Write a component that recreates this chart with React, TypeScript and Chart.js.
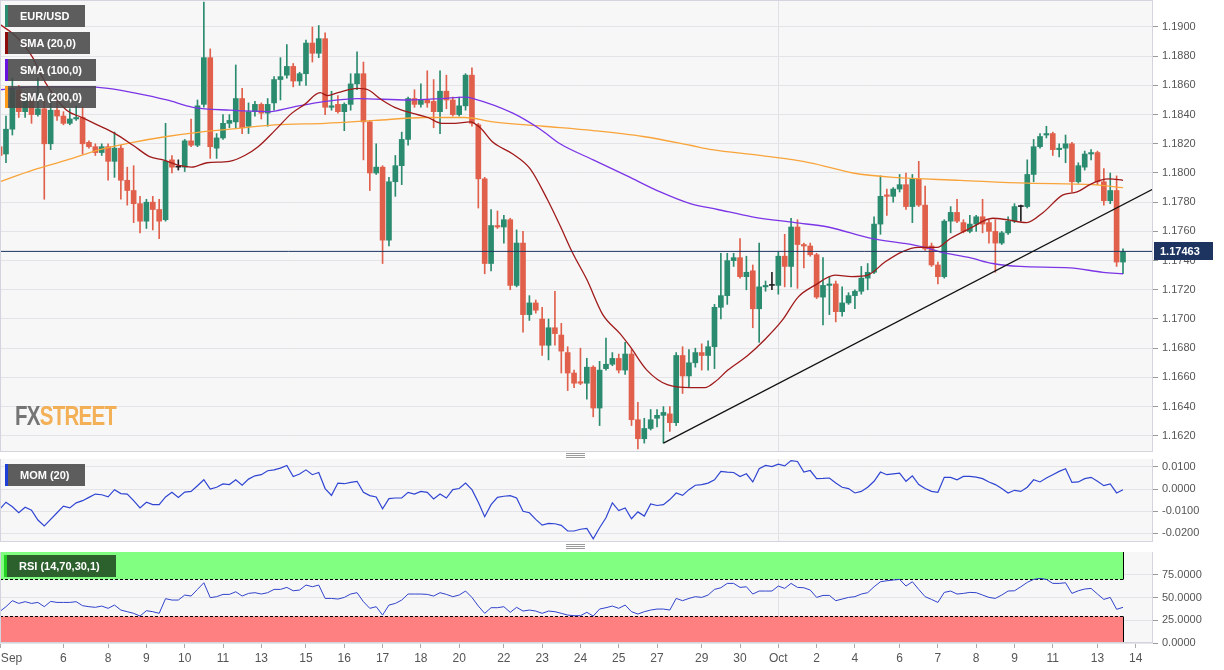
import React, { useEffect, useRef } from 'react';
import Chart from 'chart.js/auto';

Chart.defaults.font.family = "'Liberation Sans', Arial, Helvetica, sans-serif";

// EUR/USD 4h candles, Sep 3 -> Oct 13 (index 0..176)
const OPEN = [
  1.1818, 1.1813, 1.183, 1.1857, 1.1842, 1.185, 1.184, 1.1844, 1.182, 1.1843,
  1.1839, 1.1834, 1.1837, 1.1838, 1.1821, 1.1818, 1.1814, 1.1818, 1.1808, 1.1817,
  1.1795, 1.1788, 1.1779, 1.1767, 1.178, 1.1775, 1.1768, 1.1809, 1.1804, 1.1804,
  1.1822, 1.1819, 1.1847, 1.1879, 1.1817, 1.1824, 1.1834, 1.1835, 1.1851, 1.1832,
  1.1842, 1.1847, 1.1841, 1.1848, 1.1864, 1.1867, 1.1873, 1.1863, 1.1868, 1.1889,
  1.1882, 1.1892, 1.1845, 1.1847, 1.1842, 1.1847, 1.1861, 1.1868, 1.1835, 1.18,
  1.1804, 1.1754, 1.1794, 1.1805, 1.1823, 1.1851, 1.1847, 1.185, 1.1849, 1.1842,
  1.1856, 1.185, 1.184, 1.1846, 1.1867, 1.1833, 1.1796, 1.1738, 1.1764, 1.1763,
  1.1768, 1.1723, 1.1752, 1.1703, 1.1711, 1.17, 1.1682, 1.1694, 1.1689, 1.1677,
  1.1663, 1.1657, 1.1656, 1.1667, 1.1639, 1.1666, 1.1669, 1.1673, 1.1665, 1.1676,
  1.1631, 1.1618, 1.1625, 1.1632, 1.1634, 1.1635, 1.1629, 1.1675, 1.1661, 1.167,
  1.1677, 1.1675, 1.1681, 1.1708, 1.1716, 1.174, 1.1742, 1.1729, 1.1733, 1.1707,
  1.1722, 1.1723, 1.1723, 1.1743, 1.1736, 1.1763, 1.1751, 1.175, 1.1744, 1.1715,
  1.1723, 1.1724, 1.1705, 1.1711, 1.1716, 1.1719, 1.1728, 1.1732, 1.1765, 1.1785,
  1.1784, 1.1789, 1.1792, 1.1777, 1.1796, 1.1778, 1.175, 1.1737, 1.1729, 1.1767,
  1.1773, 1.1766, 1.176, 1.1765, 1.177, 1.1766, 1.176, 1.1752, 1.1759, 1.1767,
  1.1777, 1.1777, 1.1799, 1.1818, 1.1826, 1.1827, 1.1816, 1.1817, 1.182, 1.1794,
  1.1804, 1.1813, 1.1814, 1.1794, 1.1781, 1.1788, 1.1739,
];
const HIGH = [
  1.1822, 1.1839, 1.1865, 1.186, 1.1855, 1.1853, 1.1865, 1.185, 1.185, 1.185,
  1.1842, 1.1844, 1.1846, 1.1845, 1.1822, 1.182, 1.182, 1.182, 1.1828, 1.1819,
  1.1804, 1.1805, 1.1784, 1.1782, 1.1784, 1.1782, 1.1834, 1.1812, 1.1809, 1.1823,
  1.1837, 1.185, 1.1917, 1.1885, 1.1827, 1.184, 1.184, 1.1874, 1.1858, 1.1848,
  1.1849, 1.1848, 1.1851, 1.1866, 1.1879, 1.1888, 1.1875, 1.1869, 1.1891, 1.19,
  1.1901, 1.1896, 1.1856, 1.1853, 1.1848, 1.1868, 1.1883, 1.1876, 1.1836, 1.182,
  1.1805, 1.1797, 1.1812, 1.1828, 1.1852, 1.1857, 1.1861, 1.187, 1.1864, 1.187,
  1.1867, 1.1852, 1.1852, 1.1868, 1.1872, 1.1834, 1.1797, 1.1775, 1.1774, 1.1771,
  1.1769, 1.1761, 1.176, 1.1716, 1.1713, 1.1708, 1.17, 1.1719, 1.1697, 1.1681,
  1.1665, 1.168, 1.1673, 1.1668, 1.1671, 1.1687, 1.1677, 1.1676, 1.1684, 1.1679,
  1.1643, 1.1632, 1.1638, 1.1638, 1.164, 1.164, 1.1677, 1.1681, 1.1679, 1.168,
  1.1683, 1.1685, 1.171, 1.1745, 1.1745, 1.1745, 1.1755, 1.1743, 1.1737, 1.1752,
  1.1726, 1.1732, 1.1746, 1.1758, 1.1769, 1.1768, 1.1752, 1.1752, 1.1745, 1.1742,
  1.1729, 1.1726, 1.1722, 1.1718, 1.172, 1.1736, 1.1738, 1.177, 1.1798, 1.1789,
  1.179, 1.1799, 1.18, 1.1799, 1.1808, 1.1791, 1.1752, 1.1739, 1.1768, 1.1777,
  1.1782, 1.1768, 1.1771, 1.1771, 1.1782, 1.1768, 1.1768, 1.176, 1.177, 1.1779,
  1.1778, 1.1809, 1.1823, 1.1827, 1.1832, 1.1828, 1.182, 1.1826, 1.1821, 1.1807,
  1.1815, 1.1816, 1.1815, 1.1803, 1.18, 1.1798, 1.1748,
];
const LOW = [
  1.1806, 1.1807, 1.1826, 1.1838, 1.1838, 1.1834, 1.1839, 1.1782, 1.1816, 1.1836,
  1.1833, 1.1833, 1.1836, 1.1813, 1.1817, 1.1812, 1.1812, 1.1795, 1.1797, 1.1782,
  1.1778, 1.1766, 1.1759, 1.1762, 1.1761, 1.1755, 1.1767, 1.18, 1.1802, 1.1801,
  1.1818, 1.1818, 1.1845, 1.181, 1.181, 1.1823, 1.1831, 1.1831, 1.1827, 1.1827,
  1.1839, 1.1837, 1.1832, 1.1843, 1.185, 1.1865, 1.1859, 1.186, 1.186, 1.1876,
  1.1879, 1.184, 1.1843, 1.1841, 1.1829, 1.1843, 1.1857, 1.1809, 1.1788, 1.1799,
  1.1738, 1.175, 1.1784, 1.1792, 1.1819, 1.1845, 1.1845, 1.1845, 1.1831, 1.1827,
  1.1844, 1.1839, 1.1839, 1.1843, 1.1832, 1.1776, 1.1731, 1.1733, 1.1762, 1.1752,
  1.172, 1.1722, 1.1691, 1.1699, 1.1704, 1.1675, 1.1672, 1.1682, 1.1663, 1.1651,
  1.1653, 1.1655, 1.1645, 1.1633, 1.1627, 1.1665, 1.1668, 1.1663, 1.1662, 1.1627,
  1.1611, 1.1615, 1.1624, 1.1626, 1.1615, 1.1623, 1.1627, 1.1649, 1.1653, 1.1667,
  1.1665, 1.1665, 1.1666, 1.17, 1.171, 1.1736, 1.1728, 1.172, 1.1694, 1.1684,
  1.1719, 1.172, 1.1717, 1.1722, 1.1722, 1.1721, 1.1735, 1.1743, 1.1714, 1.1696,
  1.1703, 1.1698, 1.1702, 1.171, 1.1707, 1.1717, 1.172, 1.1731, 1.1758, 1.1771,
  1.178, 1.1787, 1.1775, 1.1766, 1.1777, 1.1747, 1.1736, 1.1724, 1.1728, 1.1759,
  1.1766, 1.1759, 1.1759, 1.176, 1.1759, 1.1752, 1.1732, 1.1751, 1.1758, 1.1766,
  1.1767, 1.1776, 1.1794, 1.1817, 1.1824, 1.1812, 1.1811, 1.1807, 1.1787, 1.1793,
  1.1802, 1.1809, 1.1792, 1.1778, 1.1779, 1.1736, 1.1731,
];
const CLOSE = [
  1.1812, 1.183, 1.1858, 1.1842, 1.185, 1.184, 1.1844, 1.182, 1.1843, 1.1839,
  1.1834, 1.1837, 1.1838, 1.182, 1.1818, 1.1814, 1.1818, 1.1808, 1.1817, 1.1795,
  1.1788, 1.1779, 1.1767, 1.178, 1.1775, 1.1767, 1.1808, 1.1804, 1.1804, 1.1822,
  1.1819, 1.1846, 1.1879, 1.1818, 1.1824, 1.1834, 1.1836, 1.1851, 1.1831, 1.1842,
  1.1847, 1.1841, 1.1847, 1.1864, 1.1866, 1.1873, 1.1863, 1.1868, 1.1889, 1.1882,
  1.1892, 1.1845, 1.1846, 1.1842, 1.1847, 1.1861, 1.1868, 1.1835, 1.18, 1.1804,
  1.1754, 1.1794, 1.1805, 1.1823, 1.1851, 1.1847, 1.185, 1.1848, 1.1842, 1.1856,
  1.185, 1.184, 1.1846, 1.1867, 1.1834, 1.1796, 1.1738, 1.1764, 1.1763, 1.1768,
  1.1723, 1.1752, 1.1703, 1.1711, 1.1706, 1.1682, 1.1694, 1.169, 1.1678, 1.1663,
  1.1656, 1.1656, 1.1667, 1.1639, 1.1665, 1.1669, 1.1673, 1.1665, 1.1676, 1.1631,
  1.1618, 1.1625, 1.1631, 1.1634, 1.1636, 1.1629, 1.1675, 1.1661, 1.167, 1.1677,
  1.1675, 1.1681, 1.1708, 1.1716, 1.174, 1.1742, 1.1729, 1.1732, 1.1707, 1.1722,
  1.1723, 1.1723, 1.1743, 1.1736, 1.1763, 1.1751, 1.175, 1.1744, 1.1715, 1.1723,
  1.1724, 1.1705, 1.1711, 1.1716, 1.1719, 1.1728, 1.1732, 1.1765, 1.1784, 1.1784,
  1.1789, 1.1792, 1.1777, 1.1796, 1.1778, 1.1748, 1.1737, 1.1729, 1.1767, 1.1773,
  1.1767, 1.176, 1.1765, 1.177, 1.1765, 1.176, 1.1752, 1.1759, 1.1767, 1.1777,
  1.1777, 1.1799, 1.1818, 1.1825, 1.1827, 1.1816, 1.1817, 1.182, 1.1794, 1.1805,
  1.1813, 1.1814, 1.1794, 1.1781, 1.1788, 1.1739, 1.1746,
];

// moving averages, read at knots (candle index, value)
const SMA20_IDX = [0, 2.7, 5.2, 6.4, 7.9, 10.5, 12.9, 15.3, 18.1, 20.9, 23.6, 25.6, 28.3, 30.1, 32.5, 36, 38.4, 40.5, 43.1, 45.8, 47.8, 50.2, 51.4, 53, 56.1, 57.7, 59.9, 61.9, 64.6, 67.1, 69.3, 71.3, 73.7, 75.3, 77.3, 80.4, 83.1, 85.8, 87.8, 89.8, 92, 94.5, 97.2, 98.8, 101.4, 104.6, 108.2, 110.5, 112.1, 114.1, 117.2, 119.9, 122.6, 125.1, 127.7, 130.9, 133.5, 136, 138.7, 141.4, 143.9, 146.9, 148.9, 152, 155.6, 157.8, 160.9, 163.5, 166.6, 168.8, 170.8, 172.4, 173.9, 176];
const SMA20_VAL = [1.1902, 1.1893, 1.1879, 1.1868, 1.1857, 1.1843, 1.1838, 1.1833, 1.1827, 1.1819, 1.1811, 1.1809, 1.1805, 1.1804, 1.1807, 1.1808, 1.1812, 1.1818, 1.1829, 1.1841, 1.1847, 1.1855, 1.1853, 1.1855, 1.1858, 1.1857, 1.185, 1.1845, 1.1841, 1.1838, 1.1834, 1.1834, 1.1835, 1.1831, 1.1821, 1.1813, 1.1803, 1.1782, 1.1764, 1.1745, 1.1727, 1.1703, 1.169, 1.1681, 1.1665, 1.1655, 1.1653, 1.1653, 1.1657, 1.1665, 1.1675, 1.1686, 1.1699, 1.1715, 1.1723, 1.173, 1.1729, 1.173, 1.1739, 1.1746, 1.1749, 1.1749, 1.1755, 1.1762, 1.1769, 1.1768, 1.1766, 1.1773, 1.1785, 1.1787, 1.1792, 1.1795, 1.1796, 1.1795];
const SMA100_IDX = [0, 5.2, 13.1, 17, 20.9, 26.2, 30.3, 36.1, 42.1, 45.8, 51, 56.1, 64, 69.3, 72.9, 74.2, 80.4, 84.7, 87.8, 93, 98.3, 103.5, 108.2, 112.5, 117.9, 124.6, 129.8, 136.7, 141.4, 145, 147.3, 152, 155.6, 159.9, 167.7, 172.9, 176];
const SMA100_VAL = [1.1857, 1.1859, 1.1859, 1.1858, 1.1855, 1.185, 1.1845, 1.1843, 1.1842, 1.1845, 1.1849, 1.1851, 1.185, 1.1851, 1.1852, 1.1851, 1.1841, 1.183, 1.182, 1.1809, 1.1798, 1.1787, 1.1779, 1.1775, 1.177, 1.1766, 1.1763, 1.1755, 1.1752, 1.1749, 1.1746, 1.1742, 1.1738, 1.1736, 1.1735, 1.1732, 1.1731];
const SMA200_IDX = [0, 5.2, 10.6, 15.7, 20.9, 26.2, 31.4, 36.1, 43.1, 51, 58.8, 66.6, 72.9, 77.3, 85.1, 93, 100.8, 108.2, 111.6, 119.1, 127, 133.7, 140, 150.5, 161, 171.3, 176];
const SMA200_VAL = [1.1794, 1.1802, 1.1809, 1.1816, 1.1821, 1.1825, 1.1828, 1.183, 1.1833, 1.1834, 1.1836, 1.1838, 1.1838, 1.1835, 1.1832, 1.1829, 1.1825, 1.1819, 1.1816, 1.1812, 1.1807, 1.18, 1.1797, 1.1795, 1.1793, 1.1792, 1.179];

// hand-drawn support line and last price
const TREND_IDX = [104, 180.7];
const TREND_VAL = [1.1615, 1.1789];
const LAST_PRICE = 1.17463;

// MOM (20) per candle
const MOM = [
  -0.0093, -0.006, -0.0081, -0.0108, -0.0083, -0.0096, -0.0141, -0.0168, -0.0138, -0.0108,
  -0.0078, -0.0086, -0.0063, -0.0053, -0.0038, -0.0023, -0.0026, -0.0036, -0.0003, -0.0021,
  -0.0023, -0.0053, -0.0086, -0.006, -0.0071, -0.0071, -0.0036, -0.0015, -0.0038, -0.0014,
  -0.0011, 0.0015, 0.0042, 0.0, 0.0008, 0.0023, 0.002, 0.0042, 0.0017, 0.0045,
  0.006, 0.0065, 0.0083, 0.0087, 0.0095, 0.0107, 0.0057, 0.0068, 0.0087, 0.0065,
  0.0075, 0.0002, -0.0029, 0.0027, 0.0024, 0.003, 0.0035, -0.0015, -0.003, -0.0036,
  -0.009, -0.0044, -0.0041, -0.0041, -0.0015, -0.0023, -0.0011, -0.0015, -0.0045, -0.0023,
  -0.0041, -0.0003, 0.0002, 0.0027, -0.0003, -0.006, -0.0126, -0.0071, -0.0038, -0.0033,
  -0.003, -0.0041, -0.0101, -0.0108, -0.0138, -0.0164, -0.0156, -0.0158, -0.0165, -0.0191,
  -0.0191, -0.0183, -0.0179, -0.0226, -0.0176, -0.0131, -0.0063, -0.0098, -0.0086, -0.0135,
  -0.0104, -0.0123, -0.0068, -0.0075, -0.0071, -0.0048, -0.0018, -0.0029, -0.0003, 0.0017,
  0.002, 0.0027, 0.0042, 0.008, 0.0077, 0.0075, 0.0057, 0.0069, 0.0032, 0.0092,
  0.0107, 0.0102, 0.0113, 0.0105, 0.0129, 0.0125, 0.0077, 0.0084, 0.0047, 0.0048,
  0.005, 0.0027, 0.0008, 0.0002, -0.0018, -0.0011, 0.0008, 0.0035, 0.0077, 0.0065,
  0.0069, 0.0072, 0.0035, 0.006, 0.002, 0.0002, -0.0011, -0.0015, 0.0053, 0.0053,
  0.0042, 0.0057, 0.0057, 0.0054, 0.0047, 0.0032, 0.002, 0.0002, -0.0018, -0.0006,
  -0.0011, 0.0008, 0.0042, 0.0032, 0.005, 0.0065, 0.008, 0.0092, 0.003, 0.0032,
  0.0047, 0.0053, 0.0035, 0.0015, 0.0023, -0.0018, -0.0003,
];

// RSI (14) per candle
const RSI = [
  34.4, 39.9, 46.5, 43.5, 45.4, 43.5, 44.6, 39.9, 45.7, 44.6,
  44.6, 44.6, 45.4, 41.0, 39.9, 39.2, 40.6, 38.1, 41.7, 36.2,
  34.4, 32.6, 29.6, 35.5, 34.4, 32.6, 48.7, 47.2, 47.2, 52.7,
  51.6, 58.9, 66.2, 49.8, 50.9, 53.4, 53.4, 56.3, 51.6, 54.5,
  55.3, 53.8, 55.3, 58.9, 58.9, 61.1, 57.4, 58.2, 63.7, 61.8,
  63.7, 49.0, 49.0, 48.3, 50.1, 53.8, 55.3, 45.4, 38.1, 39.9,
  30.7, 41.7, 43.5, 47.2, 53.8, 53.8, 53.8, 53.4, 51.6, 55.3,
  53.4, 50.9, 52.7, 57.1, 50.1, 40.6, 32.6, 38.8, 38.8, 39.9,
  33.7, 39.2, 35.1, 36.2, 35.1, 32.6, 35.1, 34.4, 32.6, 30.7,
  30.0, 30.0, 33.7, 29.6, 37.3, 38.8, 40.6, 38.1, 41.7, 34.4,
  31.8, 34.4, 36.2, 37.3, 37.3, 36.2, 49.0, 46.5, 49.0, 50.9,
  50.1, 52.7, 58.9, 60.7, 65.5, 65.5, 61.1, 61.8, 53.8, 57.1,
  57.1, 57.1, 62.6, 60.0, 65.5, 61.1, 60.7, 58.2, 50.1, 52.3,
  52.3, 46.5, 48.3, 50.1, 50.9, 53.8, 55.3, 61.8, 67.3, 68.4,
  69.2, 69.9, 62.6, 67.3, 58.9, 50.9, 47.9, 44.6, 55.6, 57.1,
  53.8, 54.5, 55.6, 55.3, 52.7, 50.1, 49.0, 52.7, 57.1, 57.4,
  61.8, 66.6, 69.9, 71.0, 69.9, 65.5, 65.5, 66.2, 54.5, 57.4,
  59.3, 60.0, 53.8, 47.9, 50.1, 37.0, 39.2,
];
const RSI_UPPER = 70;
const RSI_LOWER = 30;
const RSI_MIN = 0;
const RSI_MAX = 100;

// axis ticks
const X_TICK_POS = [0.2, 10, 17, 23, 29, 35, 41, 48, 54, 60, 66, 72, 79, 85, 91, 97, 103, 110, 116, 122, 128, 134, 141, 147, 153, 159, 165, 172, 178];
const X_TICK_LABELS = ['Sep', '6', '8', '9', '10', '11', '13', '15', '16', '17', '18', '20', '22', '23', '24', '25', '27', '29', '30', 'Oct', '2', '4', '6', '7', '8', '9', '11', '13', '14'];
const PRICE_TICKS = [1.162, 1.164, 1.166, 1.168, 1.17, 1.172, 1.174, 1.176, 1.178, 1.18, 1.182, 1.184, 1.186, 1.188, 1.19];
const MOM_TICKS = [-0.02, -0.01, 0, 0.01];
const RSI_TICKS = [0, 25, 50, 75];

// layout
const WIDTH = 1224;
const AXIS_W = 71;
const X_MIN = 0.063;
const X_MAX = 180.7;
const GREEN = '#2b8b6f';
const RED = '#e0604b';
const DOJI = '#222222';
const OCT_POS = X_TICK_POS[X_TICK_LABELS.indexOf('Oct')];

const candleColor = (i: number) => (CLOSE[i] > OPEN[i] ? GREEN : CLOSE[i] < OPEN[i] ? RED : DOJI);
const zip = (xs: number[], ys: number[]) => xs.map((x, k) => ({ x, y: ys[k] }));

const panelPlugin = {
  id: 'panel',
  beforeDraw(chart: any) {
    const { ctx, chartArea: a } = chart;
    ctx.save();
    ctx.fillStyle = '#f7f7f8';
    ctx.fillRect(a.left, a.top, a.right - a.left, a.bottom - a.top);
    ctx.restore();
  },
  afterDraw(chart: any) {
    const { ctx, chartArea: a } = chart;
    ctx.save();
    ctx.strokeStyle = '#d3d4de';
    ctx.lineWidth = 1;
    ctx.strokeRect(a.left + 0.5, a.top - 0.5, a.right - a.left - 1, a.bottom - a.top);
    ctx.restore();
  },
};

const lastPricePlugin = {
  id: 'lastPrice',
  afterDraw(chart: any) {
    const { ctx, chartArea: a } = chart;
    const y = chart.scales.y.getPixelForValue(LAST_PRICE);
    ctx.save();
    ctx.fillStyle = '#1d3461';
    ctx.fillRect(a.right + 1, Math.round(y) - 9, 59, 18);
    ctx.fillStyle = '#ffffff';
    ctx.font = "bold 11px 'Liberation Sans', Arial, sans-serif";
    ctx.textBaseline = 'middle';
    ctx.fillText(LAST_PRICE.toFixed(5), a.right + 7, Math.round(y) + 0.5);
    ctx.restore();
  },
};

const rsiBandsPlugin = {
  id: 'rsiBands',
  beforeDatasetsDraw(chart: any) {
    const { ctx, chartArea: a, scales } = chart;
    const x = scales.x;
    const y = scales.y;
    const right = Math.round(x.getPixelForValue(CLOSE.length - 1)) + 0.5;
    const top = y.getPixelForValue(RSI_MAX);
    const y70 = Math.round(y.getPixelForValue(RSI_UPPER)) + 0.5;
    const y30 = Math.round(y.getPixelForValue(RSI_LOWER)) + 0.5;
    const bottom = y.getPixelForValue(RSI_MIN);
    ctx.save();
    ctx.fillStyle = '#80ff80';
    ctx.fillRect(a.left, top, right - a.left, y70 - top);
    ctx.fillStyle = '#ff8080';
    ctx.fillRect(a.left, y30, right - a.left, bottom - y30);
    ctx.strokeStyle = '#000';
    ctx.lineWidth = 1;
    ctx.beginPath();
    ctx.moveTo(right, top);
    ctx.lineTo(right, y70);
    ctx.moveTo(right, y30);
    ctx.lineTo(right, bottom);
    ctx.moveTo(a.left + 0.5, y30);
    ctx.lineTo(a.left + 0.5, bottom);
    ctx.stroke();
    ctx.setLineDash([3, 2]);
    ctx.beginPath();
    ctx.moveTo(a.left, y70);
    ctx.lineTo(right, y70);
    ctx.moveTo(a.left, y30);
    ctx.lineTo(right, y30);
    ctx.stroke();
    ctx.restore();
  },
};

function xAxis(showLabels: boolean) {
  return {
    type: 'linear',
    min: X_MIN,
    max: X_MAX,
    offset: false,
    afterBuildTicks: (s: any) => {
      s.ticks = [...X_TICK_POS, X_MAX].map((value) => ({ value }));
    },
    afterFit: (s: any) => {
      s.height = showLabels ? 27 : 0;
      s.paddingLeft = 0;
      s.paddingRight = 0;
    },
    ticks: {
      display: showLabels,
      autoSkip: false,
      maxRotation: 0,
      minRotation: 0,
      align: 'inner',
      padding: 3,
      color: '#555',
      font: { size: 12 },
      callback: (_v: any, i: number) => X_TICK_LABELS[i] ?? '',
    },
    grid: {
      offset: false,
      drawTicks: showLabels,
      tickLength: 5,
      tickColor: (c: any) => (c.index < X_TICK_LABELS.length ? '#aaaaaa' : 'rgba(0,0,0,0)'),
      color: (c: any) => (c.tick && c.tick.value === OCT_POS ? '#e0e0e6' : 'rgba(0,0,0,0)'),
    },
    border: { display: false },
  };
}

function yAxis(min: number, max: number, ticks: number[]) {
  return {
    type: 'linear',
    position: 'right',
    min,
    max,
    beginAtZero: false,
    afterBuildTicks: (s: any) => {
      s.ticks = ticks.map((value) => ({ value }));
    },
    afterFit: (s: any) => {
      s.width = AXIS_W;
      s.paddingTop = 0;
      s.paddingBottom = 0;
    },
    ticks: { color: '#555', font: { size: 11 }, padding: 4, callback: (v: any) => Number(v).toFixed(4) },
    grid: { color: '#e4e4e8', tickLength: 5, tickColor: '#999' },
    border: { display: false },
  };
}

const baseOptions = {
  responsive: false,
  animation: false,
  events: [],
  plugins: { legend: { display: false }, tooltip: { enabled: false } },
};

const candles = CLOSE.map((_, i) => i);

function buildMain(): any {
  return {
    type: 'bar',
    data: {
      datasets: [
        { type: 'line', data: zip(TREND_IDX, TREND_VAL), borderColor: '#111', borderWidth: 1.2, pointRadius: 0, order: 0 },
        { type: 'line', data: [{ x: X_MIN, y: LAST_PRICE }, { x: X_MAX, y: LAST_PRICE }], borderColor: '#1d3461', borderWidth: 1, pointRadius: 0, order: 0 },
        { type: 'line', data: zip(SMA20_IDX, SMA20_VAL), borderColor: '#a01a1a', borderWidth: 1.3, pointRadius: 0, cubicInterpolationMode: 'monotone', order: 1 },
        { type: 'line', data: zip(SMA100_IDX, SMA100_VAL), borderColor: '#7b35e6', borderWidth: 1.3, pointRadius: 0, cubicInterpolationMode: 'monotone', order: 1 },
        { type: 'line', data: zip(SMA200_IDX, SMA200_VAL), borderColor: '#f8a43a', borderWidth: 1.3, pointRadius: 0, cubicInterpolationMode: 'monotone', order: 1 },
        {
          type: 'bar',
          data: candles.map((i) => ({ x: i, y: [OPEN[i], CLOSE[i]] })),
          backgroundColor: candles.map(candleColor),
          barThickness: 5,
          minBarLength: 1,
          grouped: false,
          order: 3,
        },
        {
          type: 'bar',
          data: candles.map((i) => ({ x: i, y: [LOW[i], HIGH[i]] })),
          backgroundColor: candles.map(candleColor),
          barThickness: 1,
          grouped: false,
          order: 4,
        },
      ],
    },
    options: {
      ...baseOptions,
      layout: { padding: { top: 1, left: 0, right: 0, bottom: 0 } },
      scales: { x: xAxis(false), y: yAxis(1.16089, 1.19178, PRICE_TICKS) },
    },
    plugins: [panelPlugin, lastPricePlugin],
  };
}

function buildMom(): any {
  return {
    type: 'line',
    data: {
      datasets: [
        { data: zip(candles, MOM), borderColor: '#2f45d2', borderWidth: 1.2, pointRadius: 0, tension: 0 },
      ],
    },
    options: {
      ...baseOptions,
      layout: { padding: 0 },
      scales: { x: xAxis(false), y: yAxis(-0.02409, 0.013636, MOM_TICKS) },
    },
    plugins: [panelPlugin],
  };
}

function buildRsi(): any {
  return {
    type: 'line',
    data: {
      datasets: [
        { data: zip(candles, RSI), borderColor: '#3043cc', borderWidth: 1, pointRadius: 0, tension: 0 },
      ],
    },
    options: {
      ...baseOptions,
      layout: { padding: 0 },
      scales: { x: xAxis(true), y: yAxis(RSI_MIN, RSI_MAX, RSI_TICKS) },
    },
    plugins: [panelPlugin, rsiBandsPlugin],
  };
}

function Panel({ top, height, build }: { top: number; height: number; build: () => any }) {
  const ref = useRef<HTMLCanvasElement | null>(null);
  useEffect(() => {
    const chart = new Chart(ref.current as HTMLCanvasElement, build());
    return () => chart.destroy();
  }, [build]);
  return (
    <canvas
      ref={ref}
      width={WIDTH}
      height={height}
      style={{ position: 'absolute', left: 0, top, width: WIDTH, height }}
    />
  );
}

const tagText: React.CSSProperties = {
  position: 'absolute',
  height: 22,
  lineHeight: '22px',
  paddingLeft: 12,
  boxSizing: 'border-box',
  color: '#fff',
  fontFamily: "'Liberation Sans', Arial, sans-serif",
  fontSize: 11,
  fontWeight: 'bold',
  whiteSpace: 'nowrap',
};

function Tag({ left, top, width, text, strip, bg }: { left: number; top: number; width: number; text: string; strip: string; bg: string }) {
  return (
    <div style={{ ...tagText, left, top, width, background: bg, borderLeft: `3px solid ${strip}` }}>{text}</div>
  );
}

function Handle({ top }: { top: number }) {
  return (
    <div
      style={{
        position: 'absolute',
        left: 566,
        top,
        width: 19,
        height: 5,
        background: 'repeating-linear-gradient(#9a9a9a 0px, #9a9a9a 1px, transparent 1px, transparent 2px)',
      }}
    />
  );
}

export default function App() {
  useEffect(() => {
    document.body.style.margin = '0';
  }, []);
  const tagBg = 'rgba(72,72,72,0.88)';
  return (
    <div style={{ position: 'relative', width: WIDTH, height: 670, background: '#fff', overflow: 'hidden' }}>
      <Panel top={0} height={452} build={buildMain} />
      <Panel top={459} height={83} build={buildMom} />
      <Panel top={552} height={118} build={buildRsi} />
      <Handle top={453} />
      <Handle top={544} />
      <Tag left={5} top={5} width={80} text="EUR/USD" strip="#2b8b6f" bg={tagBg} />
      <Tag left={5} top={32} width={85} text="SMA (20,0)" strip="#8b0a0a" bg={tagBg} />
      <Tag left={5} top={59} width={91} text="SMA (100,0)" strip="#6a12e0" bg={tagBg} />
      <Tag left={5} top={86} width={91} text="SMA (200,0)" strip="#ff9a1a" bg={tagBg} />
      <Tag left={5} top={464} width={80} text="MOM (20)" strip="#1c3fd8" bg={tagBg} />
      <Tag left={4} top={555} width={112} text="RSI (14,70,30,1)" strip="#22d022" bg="rgba(38,84,38,0.93)" />
      <div
        style={{
          position: 'absolute',
          left: 15,
          top: 401,
          fontFamily: "'Liberation Sans', Arial, sans-serif",
          fontWeight: 'bold',
          fontSize: 27,
          letterSpacing: '-1px',
          transform: 'scaleX(0.76)',
          transformOrigin: 'left top',
          opacity: 0.85,
          lineHeight: '30px',
          whiteSpace: 'nowrap',
        }}
      >
        <span style={{ color: '#5f5f5f' }}>FX</span>
        <span style={{ color: '#f2a43a' }}>STREET</span>
      </div>
    </div>
  );
}
